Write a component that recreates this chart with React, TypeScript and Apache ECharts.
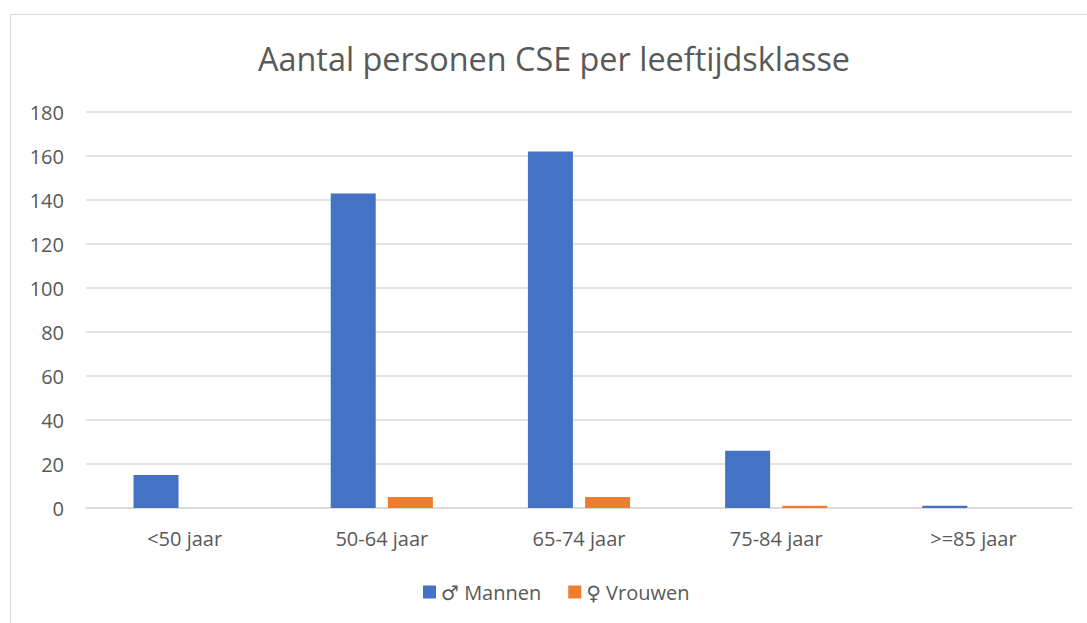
import React, { useEffect, useRef } from "react";
import * as echarts from "echarts";

const categories = ["<50 jaar", "50-64 jaar", "65-74 jaar", "75-84 jaar", ">=85 jaar"];
const mannen = [15, 143, 162, 26, 1];
const vrouwen = [0, 5, 5, 1, 0];
const seriesNames = ["♂ Mannen", "♀ Vrouwen"];
const titleText = "Aantal personen CSE per leeftijdsklasse";

export default function App() {
  const ref = useRef<HTMLDivElement>(null);
  useEffect(() => {
    if (!ref.current) return;
    const chart = echarts.init(ref.current, null, { renderer: "svg" });
    const font = "'Open Sans', 'DejaVu Sans', sans-serif";
    chart.setOption({
      animation: false,
      backgroundColor: "#ffffff",
      textStyle: { fontFamily: font },
      title: {
        text: titleText,
        left: 253,
        top: 37,
        textStyle: { fontFamily: font, fontSize: 32.4, fontWeight: "normal", color: "#595959" },
      },
      graphic: [
        {
          type: "rect",
          shape: { x: 10.5, y: 14.5, width: 1200, height: 700 },
          style: { fill: "none", stroke: "#d9d9d9", lineWidth: 1 },
          silent: true,
        },
      ],
      legend: {
        bottom: 16,
        left: 418,
        itemWidth: 13,
        itemHeight: 13,
        itemGap: 27,
        icon: "rect",
        textStyle: { fontFamily: font, fontSize: 20, color: "#595959" },
        data: seriesNames,
      },
      grid: { left: 86, right: 15, top: 112, bottom: 115, containLabel: false },
      xAxis: {
        type: "category",
        data: categories,
        axisLine: { lineStyle: { color: "#d9d9d9", width: 1.5 } },
        axisTick: { show: false },
        axisLabel: { fontFamily: font, fontSize: 20, color: "#595959", margin: 20 },
      },
      yAxis: {
        type: "value",
        min: 0,
        max: 180,
        interval: 20,
        axisLine: { show: false },
        axisTick: { show: false },
        splitLine: { lineStyle: { color: "#d9d9d9", width: 1.5 } },
        axisLabel: { fontFamily: font, fontSize: 20, color: "#595959", margin: 22 },
      },
      series: [
        {
          name: seriesNames[0],
          type: "bar",
          data: mannen,
          barWidth: 45,
          barGap: "27%",
          itemStyle: { color: "#4472C4" },
        },
        {
          name: seriesNames[1],
          type: "bar",
          data: vrouwen,
          barWidth: 45,
          itemStyle: { color: "#ED7D31" },
        },
      ],
    });
    return () => chart.dispose();
  }, []);
  return (
    <div
      ref={ref}
      style={{ position: "fixed", left: 0, top: 0, width: 1087, height: 623 }}
    />
  );
}
